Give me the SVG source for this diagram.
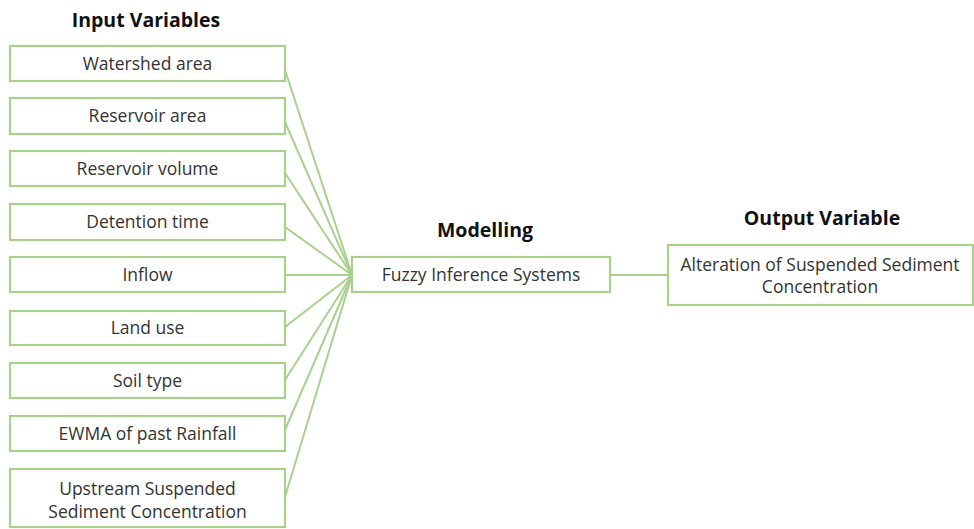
<svg xmlns="http://www.w3.org/2000/svg" width="974" height="529" viewBox="0 0 974 529">
<style>
.box{fill:#fff;stroke:#a9d18e;stroke-width:2.2}
.lbl{font-family:"Open Sans","Noto Sans",sans-serif;font-size:17.5px;fill:#333;text-anchor:middle}
.ttl{font-family:"Open Sans","Noto Sans",sans-serif;font-size:19.5px;font-weight:bold;fill:#111;text-anchor:middle}
.con{stroke:#a9d18e;stroke-width:2;fill:none}
</style>
<rect width="974" height="529" fill="#fff"/>
<text class="ttl" x="146" y="27">Input Variables</text>
<text class="ttl" x="485" y="237">Modelling</text>
<text class="ttl" x="822" y="225">Output Variable</text>
<g id="connectors">
<line class="con" x1="285" y1="70" x2="352" y2="275"/>
<line class="con" x1="285" y1="122" x2="352" y2="275"/>
<line class="con" x1="285" y1="173" x2="352" y2="275"/>
<line class="con" x1="285" y1="227" x2="352" y2="275"/>
<line class="con" x1="285" y1="275" x2="352" y2="275"/>
<line class="con" x1="285" y1="327" x2="352" y2="275"/>
<line class="con" x1="285" y1="380" x2="352" y2="275"/>
<line class="con" x1="285" y1="430" x2="352" y2="275"/>
<line class="con" x1="285" y1="497" x2="352" y2="275"/>
<line class="con" x1="610" y1="275" x2="668" y2="275"/>
</g>
<g id="n1"><rect class="box" x="10" y="46" width="275" height="35"/><text class="lbl" x="147.5" y="70">Watershed area</text></g>
<g id="n2"><rect class="box" x="10" y="98" width="275" height="36"/><text class="lbl" x="147.5" y="122">Reservoir area</text></g>
<g id="n3"><rect class="box" x="10" y="151" width="275" height="35"/><text class="lbl" x="147.5" y="175">Reservoir volume</text></g>
<g id="n4"><rect class="box" x="10" y="204" width="275" height="36"/><text class="lbl" x="147.5" y="228">Detention time</text></g>
<g id="n5"><rect class="box" x="10" y="257" width="275" height="35"/><text class="lbl" x="147.5" y="281">Inflow</text></g>
<g id="n6"><rect class="box" x="10" y="311" width="275" height="34"/><text class="lbl" x="147.5" y="334">Land use</text></g>
<g id="n7"><rect class="box" x="10" y="363" width="275" height="35"/><text class="lbl" x="147.5" y="387">Soil type</text></g>
<g id="n8"><rect class="box" x="10" y="416" width="275" height="35"/><text class="lbl" x="147.5" y="440">EWMA of past Rainfall</text></g>
<g id="n9"><rect class="box" x="10" y="469" width="275" height="58"/><text class="lbl" x="147.5" y="495">Upstream Suspended</text><text class="lbl" x="147.5" y="518">Sediment Concentration</text></g>
<g id="fis"><rect class="box" x="352" y="257" width="258" height="35"/><text class="lbl" x="481" y="281">Fuzzy Inference Systems</text></g>
<g id="out"><rect class="box" x="668" y="245" width="305" height="60"/><text class="lbl" x="820" y="271">Alteration of Suspended Sediment</text><text class="lbl" x="820" y="293">Concentration</text></g>
</svg>
